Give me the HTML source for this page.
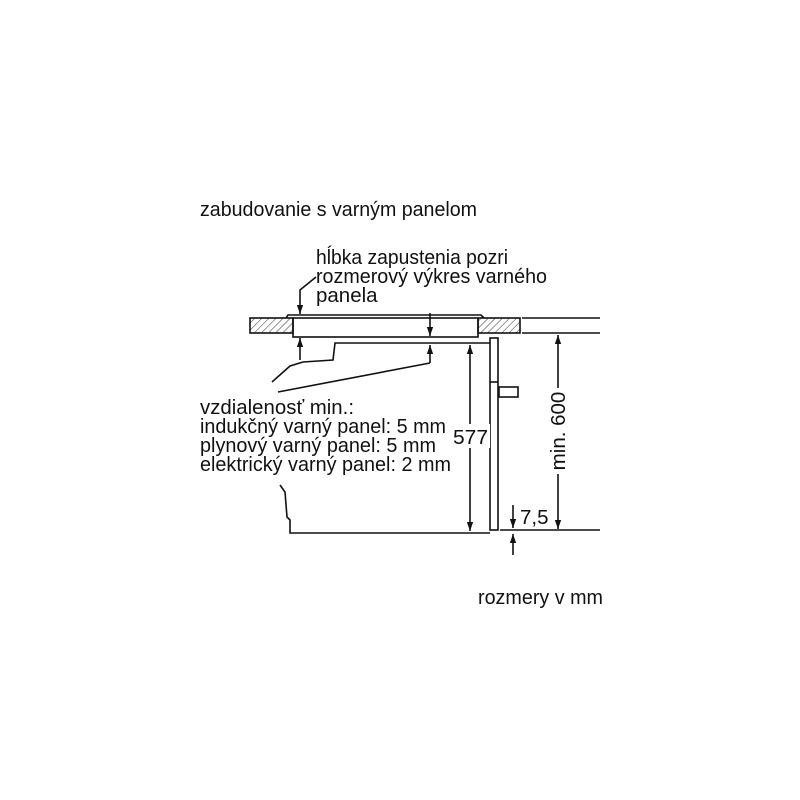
<!DOCTYPE html>
<html><head><meta charset="utf-8"><style>
html,body{margin:0;padding:0;background:#fff;width:800px;height:800px;overflow:hidden}
text{font-family:"Liberation Sans",Arial,sans-serif;font-size:20.5px;fill:#111}
</style></head><body>
<svg width="800" height="800" viewBox="0 0 800 800" xmlns="http://www.w3.org/2000/svg">
<defs>
<pattern id="h" width="5" height="5" patternUnits="userSpaceOnUse" patternTransform="rotate(45)">
<line x1="0" y1="0" x2="0" y2="5" stroke="#333" stroke-width="1"/></pattern>
<marker id="a" viewBox="0 0 10 10" refX="10" refY="5" markerWidth="9" markerHeight="9" orient="auto-start-reverse" markerUnits="userSpaceOnUse">
<path d="M0,1.5 L10,5 L0,8.5 z" fill="#111"/></marker>
</defs>
<g stroke="#111" stroke-width="1.6" fill="none">
<rect x="250" y="318" width="43" height="15" fill="url(#h)"/>
<rect x="478" y="318" width="42" height="15" fill="url(#h)"/>
<path d="M286,318 L288,315 L481,315 L484,318"/>
<rect x="293" y="318" width="185" height="19"/>
<line x1="522" y1="318" x2="600" y2="318"/>
<line x1="522" y1="333" x2="600" y2="333"/>
<polyline points="272,382 290,366 303,362 333,360 335,343 490,343"/>
<polyline points="280,485 285,492 287,517 290,520 290,533 490,533"/>
<rect x="490" y="338" width="8" height="192" fill="#fff"/>
<line x1="490" y1="382" x2="498" y2="382"/>
<rect x="499" y="387" width="19" height="10" fill="#fff"/>
<line x1="278" y1="392" x2="430" y2="363"/>
<line x1="430" y1="363" x2="430" y2="345" marker-end="url(#a)"/>
<line x1="430" y1="313" x2="430" y2="336" marker-end="url(#a)"/>
<line x1="300" y1="360" x2="300" y2="338" marker-end="url(#a)"/>
<polyline points="316,277 300,290 300,314" marker-end="url(#a)"/>
<line x1="470" y1="345" x2="470" y2="531" marker-start="url(#a)" marker-end="url(#a)"/>
<line x1="558" y1="335" x2="558" y2="529" marker-start="url(#a)" marker-end="url(#a)"/>
<line x1="500" y1="530" x2="600" y2="530"/>
<line x1="513" y1="505" x2="513" y2="528" marker-end="url(#a)"/>
<line x1="513" y1="555" x2="513" y2="534" marker-end="url(#a)"/>
</g>
<rect x="452" y="424" width="38" height="24" fill="#fff"/>
<rect x="546" y="388" width="24" height="86" fill="#fff"/>
<g>
<text x="200" y="216" textLength="277" lengthAdjust="spacingAndGlyphs">zabudovanie s varným panelom</text>
<text x="316" y="264" textLength="192" lengthAdjust="spacingAndGlyphs">hĺbka zapustenia pozri</text>
<text x="316" y="283" textLength="231" lengthAdjust="spacingAndGlyphs">rozmerový výkres varného</text>
<text x="316" y="302">panela</text>
<text x="200" y="414" textLength="154" lengthAdjust="spacingAndGlyphs">vzdialenosť min.:</text>
<text x="200" y="433" textLength="246" lengthAdjust="spacingAndGlyphs">indukčný varný panel: 5 mm</text>
<text x="200" y="452" textLength="236" lengthAdjust="spacingAndGlyphs">plynový varný panel: 5 mm</text>
<text x="200" y="471" textLength="251" lengthAdjust="spacingAndGlyphs">elektrický varný panel: 2 mm</text>
<text x="453" y="444" textLength="35" lengthAdjust="spacingAndGlyphs">577</text>
<text transform="translate(565,431) rotate(-90)" text-anchor="middle">min. 600</text>
<text x="520" y="524">7,5</text>
<text x="478" y="604" textLength="125" lengthAdjust="spacingAndGlyphs">rozmery v mm</text>
</g>
</svg>
</body></html>
